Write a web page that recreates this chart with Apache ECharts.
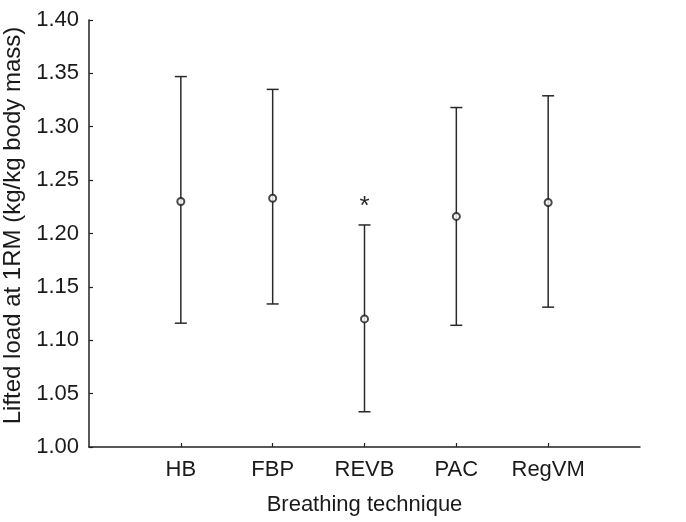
<!DOCTYPE html>
<html>
<head>
<meta charset="utf-8">
<script src="https://cdn.jsdelivr.net/npm/echarts@6/dist/echarts.min.js"></script>
<style>html,body{margin:0;padding:0;background:#fff}#c{width:686px;height:522px}</style>
</head>
<body>
<div id="c"></div>
<script>
var categories = ['HB', 'FBP', 'REVB', 'PAC', 'RegVM'];
var means = [1.230, 1.233, 1.120, 1.216, 1.229];
var upper = [1.347, 1.335, 1.208, 1.318, 1.329];
var lower = [1.116, 1.134, 1.033, 1.114, 1.131];
var marks = ['', '', '*', '', ''];
var yTicks = [1.00, 1.05, 1.10, 1.15, 1.20, 1.25, 1.30, 1.35, 1.40];

var xData = [''].concat(categories).concat(['']);
var errData = categories.map(function (c, i) { return [i + 1, lower[i], upper[i]]; });
var meanData = categories.map(function (c, i) { return [i + 1, means[i]]; });

var chart = echarts.init(document.getElementById('c'));
var font = 'Liberation Sans, Arial, sans-serif';
chart.setOption({
  animation: false,
  backgroundColor: '#fff',
  grid: { left: 89, top: 20, right: 46, bottom: 75, outerBoundsMode: 'none', containLabel: false },
  xAxis: {
    type: 'category',
    data: xData,
    boundaryGap: false,
    name: 'Breathing technique',
    nameLocation: 'middle',
    nameGap: 47,
    nameTextStyle: { fontFamily: font, fontSize: 22, color: '#1a1a1a' },
    axisLine: { lineStyle: { color: '#222', width: 1.5 } },
    axisTick: { inside: true, length: 4, lineStyle: { color: '#222', width: 1.2 },
      interval: function (idx) { return idx > 0 && idx < xData.length - 1; } },
    axisLabel: { fontFamily: font, fontSize: 22, color: '#1a1a1a', margin: 12,
      interval: function (idx) { return idx > 0 && idx < xData.length - 1; } },
    splitLine: { show: false }
  },
  yAxis: {
    type: 'value',
    min: yTicks[0],
    max: yTicks[yTicks.length - 1],
    interval: 0.05,
    name: 'Lifted load at 1RM (kg/kg body mass)',
    nameLocation: 'middle',
    nameGap: 61,
    nameTextStyle: { fontFamily: font, fontSize: 24, color: '#1a1a1a', padding: [0, 0, 0, 16] },
    axisLine: { show: true, lineStyle: { color: '#222', width: 1.5 } },
    axisTick: { show: true, inside: true, length: 4, lineStyle: { color: '#222', width: 1.2 } },
    axisLabel: { fontFamily: font, fontSize: 22, color: '#1a1a1a', margin: 10,
      formatter: function (v) { return v.toFixed(2); } },
    splitLine: { show: false }
  },
  series: [
    {
      type: 'custom',
      data: errData,
      renderItem: function (params, api) {
        var x = api.value(0);
        var lo = api.coord([x, api.value(1)]);
        var hi = api.coord([x, api.value(2)]);
        var w = 6;
        var style = { stroke: '#2a2a2a', lineWidth: 1.5 };
        var children = [
          { type: 'line', shape: { x1: lo[0], y1: lo[1], x2: hi[0], y2: hi[1] }, style: style },
          { type: 'line', shape: { x1: lo[0] - w, y1: lo[1], x2: lo[0] + w, y2: lo[1] }, style: style },
          { type: 'line', shape: { x1: hi[0] - w, y1: hi[1], x2: hi[0] + w, y2: hi[1] }, style: style }
        ];
        var m = marks[params.dataIndex];
        if (m) {
          children.push({ type: 'text', x: hi[0], y: hi[1] - 18,
            style: { text: m, fill: '#2a2a2a', font: '26px ' + font, align: 'center', verticalAlign: 'middle' } });
        }
        return { type: 'group', children: children };
      },
      z: 2
    },
    {
      type: 'scatter',
      data: meanData,
      symbol: 'emptyCircle',
      symbolSize: 7,
      itemStyle: { color: '#1a1a1a', borderWidth: 1.5 },
      z: 3
    }
  ]
});
</script>
</body>
</html>
